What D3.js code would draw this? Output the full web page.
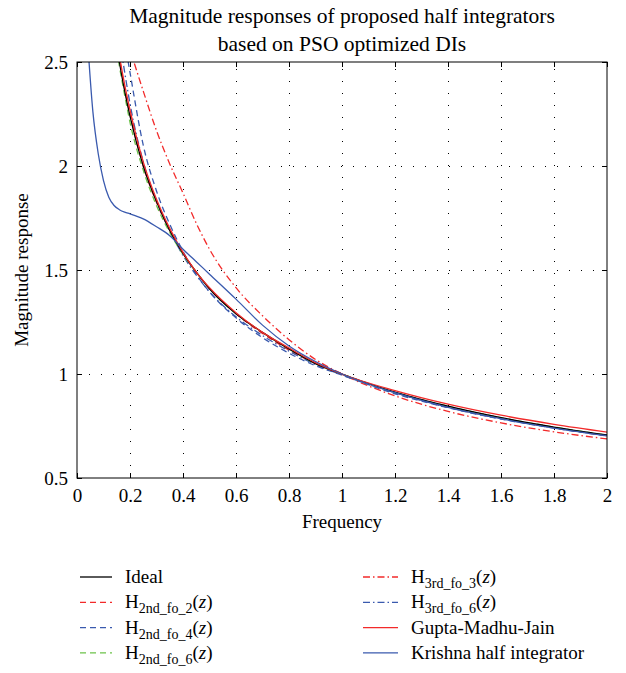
<!DOCTYPE html>
<html>
<head>
<meta charset="utf-8">
<script src="https://cdn.jsdelivr.net/npm/d3@7"></script>
<style>
  body { margin: 0; background: #fff; }
  svg, svg text { font-family: "Liberation Serif", "Times New Roman", serif; }
  .axis path { display: none; }
  .axis line { stroke: #000; }
  .grid line { stroke: #000; stroke-dasharray: 1,11; }
  .grid path { display: none; }
</style>
</head>
<body>
<svg id="chart" width="626" height="673"></svg>
<script>
// frequency grid the curves were read on
var freq = [0.04, 0.06, 0.08, 0.1, 0.12, 0.14, 0.16, 0.18, 0.2, 0.25, 0.3, 0.35, 0.4,
            0.45, 0.5, 0.6, 0.7, 0.8, 0.9, 1.0, 1.2, 1.4, 1.6, 1.8, 2.0];

// magnitude values (null = above the top of the plot)
var ideal    = [null, null, null, null, null, 2.67, 2.5, 2.36, 2.24, 2.0, 1.83, 1.69, 1.58,
                1.49, 1.41, 1.29, 1.2, 1.12, 1.05, 1.0, 0.913, 0.845, 0.79, 0.745, 0.707];
var h2nd_fo2 = [null, null, null, null, null, 2.68, 2.52, 2.37, 2.25, 2.0, 1.825, 1.69, 1.58,
                1.49, 1.41, 1.29, 1.195, 1.115, 1.05, 0.998, 0.91, 0.84, 0.787, 0.742, 0.703];
var h2nd_fo4 = [null, null, null, null, null, null, null, 2.6, 2.45, 2.1, 1.88, 1.72, 1.59,
                1.48, 1.395, 1.27, 1.175, 1.1, 1.04, 0.995, 0.905, 0.838, 0.783, 0.74, 0.702];
var h2nd_fo6 = [null, null, null, null, null, 2.65, 2.48, 2.34, 2.21, 1.98, 1.81, 1.68, 1.575,
                1.49, 1.41, 1.29, 1.2, 1.12, 1.05, 1.0, 0.912, 0.845, 0.79, 0.745, 0.706];
var h3rd_fo3 = [null, null, null, null, null, null, null, null, 2.56, 2.36, 2.17, 2.01, 1.87,
                1.725, 1.6, 1.415, 1.28, 1.165, 1.07, 1.0, 0.895, 0.82, 0.765, 0.722, 0.688];
var h3rd_fo6 = [null, null, null, null, null, null, 2.62, 2.45, 2.3, 2.02, 1.83, 1.69, 1.57,
                1.475, 1.395, 1.275, 1.185, 1.11, 1.045, 0.995, 0.91, 0.84, 0.785, 0.742, 0.704];
var gupta    = [null, null, null, null, null, 2.7, 2.53, 2.39, 2.27, 2.02, 1.84, 1.7, 1.585,
                1.49, 1.415, 1.295, 1.2, 1.125, 1.055, 1.0, 0.92, 0.855, 0.802, 0.758, 0.721];
var krishna  = [2.6, 2.26, 2.06, 1.93, 1.85, 1.81, 1.79, 1.778, 1.77, 1.746, 1.708, 1.665, 1.6,
                1.54, 1.48, 1.36, 1.235, 1.135, 1.06, 1.0, 0.91, 0.84, 0.785, 0.74, 0.703];

var xTicks = [0, 0.2, 0.4, 0.6, 0.8, 1, 1.2, 1.4, 1.6, 1.8, 2];
var yTicks = [0.5, 1, 1.5, 2, 2.5];

var red = "#f22a2a", blue = "#3a5aae", green = "#6cc24a";

// series in legend order
var series = [
  {name: "Ideal",                     sub: null,       values: ideal,    color: "#000", dash: null},
  {name: "H",                         sub: "2nd_fo_2", values: h2nd_fo2, color: red,    dash: "6,4"},
  {name: "H",                         sub: "2nd_fo_4", values: h2nd_fo4, color: blue,   dash: "6,4"},
  {name: "H",                         sub: "2nd_fo_6", values: h2nd_fo6, color: green,  dash: "6,4"},
  {name: "H",                         sub: "3rd_fo_3", values: h3rd_fo3, color: red,    dash: "7,3,1.5,3"},
  {name: "H",                         sub: "3rd_fo_6", values: h3rd_fo6, color: blue,   dash: "7,3,1.5,3"},
  {name: "Gupta-Madhu-Jain",          sub: null,       values: gupta,    color: red,    dash: null},
  {name: "Krishna half integrator",   sub: null,       values: krishna,  color: blue,   dash: null}
];

var margin = {top: 62, left: 77, right: 19, bottom: 195},
    width = 626 - margin.left - margin.right,
    height = 673 - margin.top - margin.bottom;

var x = d3.scaleLinear().domain([0, 2]).range([0, width]);
var y = d3.scaleLinear().domain([0.5, 2.5]).range([height, 0]);

var svg = d3.select("#chart");

// title
svg.append("text")
    .attr("x", margin.left + width / 2).attr("y", 23)
    .attr("text-anchor", "middle").style("font-size", "21.5px")
    .text("Magnitude responses of proposed half integrators");
svg.append("text")
    .attr("x", margin.left + width / 2).attr("y", 51)
    .attr("text-anchor", "middle").style("font-size", "21.5px")
    .text("based on PSO optimized DIs");

var g = svg.append("g")
    .attr("transform", "translate(" + margin.left + "," + margin.top + ")");

// dotted grid
g.append("g").attr("class", "grid")
    .attr("transform", "translate(0," + height + ")")
    .call(d3.axisBottom(x).tickValues(xTicks.slice(1, -1)).tickSize(-height).tickFormat(""));
g.append("g").attr("class", "grid")
    .call(d3.axisLeft(y).tickValues(yTicks.slice(1, -1)).tickSize(-width).tickFormat(""));

// curves
g.append("clipPath").attr("id", "clip")
  .append("rect").attr("width", width).attr("height", height);

var line = d3.line()
    .defined(function(d) { return d[1] != null; })
    .x(function(d) { return x(d[0]); })
    .y(function(d) { return y(d[1]); })
    .curve(d3.curveMonotoneX);

var plotOrder = [4, 1, 2, 5, 3, 0, 6, 7];
plotOrder.forEach(function(i) {
  var s = series[i];
  g.append("path")
      .datum(freq.map(function(f, k) { return [f, s.values[k]]; }))
      .attr("clip-path", "url(#clip)")
      .attr("fill", "none")
      .attr("stroke", s.color)
      .attr("stroke-width", 1.3)
      .attr("stroke-dasharray", s.dash)
      .attr("d", line);
});

// axes with inward ticks
var serif = "Liberation Serif, Times New Roman, serif";
g.append("g").attr("class", "axis")
    .attr("transform", "translate(0," + height + ")")
    .call(d3.axisBottom(x).tickValues(xTicks).tickSize(-5).tickPadding(11).tickFormat(d3.format("")))
    .attr("font-family", serif).attr("font-size", 19);
g.append("g").attr("class", "axis")
    .call(d3.axisTop(x).tickValues(xTicks).tickSize(-5).tickFormat(""));
g.append("g").attr("class", "axis")
    .call(d3.axisLeft(y).tickValues(yTicks).tickSize(-5).tickPadding(9).tickFormat(d3.format("")))
    .attr("font-family", serif).attr("font-size", 19);
g.append("g").attr("class", "axis")
    .attr("transform", "translate(" + width + ",0)")
    .call(d3.axisRight(y).tickValues(yTicks).tickSize(-5).tickFormat(""));

g.append("rect")
    .attr("width", width).attr("height", height)
    .attr("fill", "none").attr("stroke", "#000").attr("stroke-width", 1);

// axis labels
g.append("text")
    .attr("x", width / 2).attr("y", height + 50)
    .attr("text-anchor", "middle").style("font-size", "19px")
    .text("Frequency");
g.append("text")
    .attr("transform", "translate(-49," + (height / 2) + ") rotate(-90)")
    .attr("text-anchor", "middle").style("font-size", "19px")
    .text("Magnitude response");

// legend, two columns of four
var legend = svg.append("g");
series.forEach(function(s, i) {
  var col = Math.floor(i / 4), row = i % 4;
  var lx = col ? 363 : 80, ly = 577 + row * 25.3;
  var item = legend.append("g").attr("transform", "translate(" + lx + "," + ly + ")");
  item.append("line")
      .attr("x1", 0).attr("x2", col ? 35 : 32)
      .attr("stroke", s.color).attr("stroke-width", 1.3)
      .attr("stroke-dasharray", s.dash);
  var t = item.append("text")
      .attr("x", col ? 48 : 45).attr("y", 6)
      .style("font-size", "19px");
  t.append("tspan").text(s.name);
  if (s.sub) {
    t.append("tspan").attr("dy", 5).style("font-size", "14px").text(s.sub);
    t.append("tspan").attr("dy", -5).text("(");
    t.append("tspan").style("font-style", "italic").text("z");
    t.append("tspan").text(")");
  }
});
</script>
</body>
</html>
